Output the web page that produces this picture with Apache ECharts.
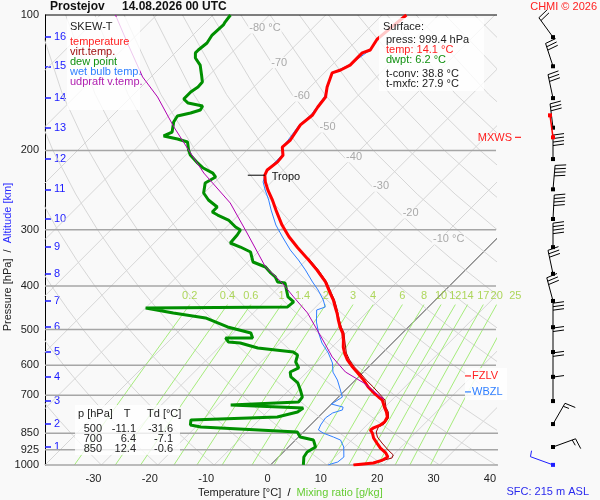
<!DOCTYPE html>
<html>
<head>
<meta charset="utf-8">
<title>SKEW-T Prostejov</title>
<script src="https://cdn.jsdelivr.net/npm/echarts@6.0.0/dist/echarts.min.js"></script>
<style>
  html, body { margin: 0; padding: 0; background: #f9f9f9; }
  #main { width: 600px; height: 500px; }
</style>
</head>
<body>
<div id="main"></div>
<script>
// sounding values: pressure [hPa] and temperature [°C]
var tempP = [999.4, 990, 975, 960, 940, 917, 894, 871, 849, 836, 827, 815, 802, 782, 763, 743, 717, 706, 692, 671,
    647, 624, 606, 584, 564, 547, 528, 509, 494, 476, 460, 446, 430, 415, 392, 369, 347, 329, 311, 293,
    271, 258, 245, 235, 227, 221, 212, 205, 196.5, 189.6, 175.5, 166.8, 160.1, 152.1, 144.5, 134.5, 132.5, 129.2, 121.4, 119.6,
    113.1, 100];
var tempT = [14.7, 17.9, 19.0, 19.4, 18.3, 16.5, 15.0, 13.5, 12.4, 11.5, 11.7, 12.4, 12.6, 12.2, 11.2, 9.9, 8.3, 7.1, 5.6, 3.5,
    1.4, -0.9, -2.8, -5.0, -6.7, -8.0, -9.2, -10.6, -12.1, -13.7, -15.1, -16.5, -18.1, -19.9, -22.7, -26.3, -30.2, -33.7, -37.2, -40.5,
    -44.3, -46.6, -49.2, -51.1, -52.4, -52.9, -52.5, -52.7, -54.3, -54.1, -55.0, -54.6, -55.1, -55.5, -57.0, -58.6, -57.6, -56.8, -56.8, -55.9,
    -56.6, -55.7];

var virtP = [999.4, 990, 964.8, 950, 926.1, 893.9, 866.6, 844.6, 823.3, 810.9, 786, 762.5, 743.5, 717.4, 698.9, 671,
    647.4, 624.5, 605.6, 584.3, 563.8, 546.8, 527.6, 508.6, 493.6, 476.2, 445.6, 429.9, 414.8, 392, 368.6, 346.7];
var virtT = [14.7, 17.9, 20.3, 20.0, 18.2, 15.9, 14.0, 12.9, 12.4, 12.9, 12.6, 11.5, 10.2, 8.8, 7.1, 4.4,
    1.9, -0.4, -2.5, -4.6, -6.4, -7.6, -9.0, -10.4, -11.9, -13.5, -16.3, -17.9, -19.7, -22.5, -26.1, -30.0];

var dewP = [100, 103.7, 105.2, 110.8, 115.4, 119.6, 121.4, 124.6, 129.2, 135.9, 140.9, 144.5, 148.3, 153.7, 156.9, 159.3, 162.6, 165.1, 167.7, 172.9,
    182.0, 185.7, 188.6, 191.5, 199.5, 204.7, 213.2, 218.8, 224.5, 229.1, 236.2, 248.6, 257.7, 267.1, 274.0, 278.3, 285.5, 295.9, 300.5, 308.2,
    321.1, 327.8, 336.3, 353.9, 363.1, 374.4, 382.1, 392.0, 394.0, 423.2, 434.2, 445.4, 447.7, 459.3, 471.2, 493.4, 508.8, 522.0, 522.0, 532.8,
    535.7, 549.5, 560.9, 569.6, 590.3, 608.7, 621.3, 637.3, 657.2, 681.3, 706.3, 724.4, 735.6, 747.0, 762.5, 782.3, 794.3, 814.9, 823.3, 844.6,
    866.6, 880.2, 912.0, 935.7, 960, 989.8, 999.4];
var dewT = [-86.9, -86.6, -86.4, -86.6, -86.1, -86.4, -86.4, -85.5, -83.4, -81.4, -80.0, -79.9, -80.3, -80.3, -78.8, -75.7, -75.4, -76.6, -78.4, -78.0,
    -76.5, -77.3, -74.3, -72.0, -70.4, -69.2, -66.5, -64.6, -62.0, -60.8, -61.6, -60.1, -58.0, -55.2, -55.2, -53.7, -50.9, -48.4, -47.0, -46.7,
    -46.5, -44.0, -41.3, -39.1, -36.0, -34.0, -32.5, -31.2, -29.7, -26.7, -24.8, -25.0, -50.0, -44.2, -37.6, -32.1, -26.9, -25.7, -30.5, -29.3,
    -27.0, -23.0, -16.0, -14.7, -13.8, -12.2, -13.0, -12.0, -9.7, -8.0, -6.4, -6.2, -17.7, -4.3, -4.6, -7.3, -22.1, -21.3, -19.1, -1.1,
    0.3, 3.2, 4.8, 4.2, 4.5, 5.5, 5.8];

var wetP = [113.1, 119.6, 129.2, 134.5, 152.1, 166.8, 175.5, 189.6, 196.5, 204.7, 212.1, 223.3, 235, 244.9, 257.8, 271.3, 292.9, 311.4, 332.9, 350.3,
    368.6, 392, 408.4, 429.9, 445.6, 452.4, 481.2, 508.6, 535.7, 563.8, 593.4, 621.6, 647.4, 681.3, 706.4, 732.1, 743.5, 754.4, 766.2, 786.0,
    814.9, 836, 849.4, 866.6, 880.2, 912, 960, 984.8, 999.4];
var wetT = [-56.6, -55.9, -57.0, -58.6, -55.7, -54.9, -55.2, -54.5, -54.3, -52.9, -52.9, -52.8, -51.5, -49.7, -47.3, -45.1, -41.6, -38.3, -34.6, -31.4,
    -28.4, -25.0, -22.6, -19.9, -18.3, -19.3, -17.2, -14.9, -12.5, -9.6, -7.1, -5.4, -3.2, -0.9, 0.7, 0.0, 2.6, 3.0, 1.8, 1.4,
    1.8, 2.3, 3.7, 6.2, 8.0, 9.8, 11.6, 11.4, 10.2];

var parcelP = [713.4, 706.3, 657.2, 621.3, 575.4, 527.3, 459.3, 423.2, 394, 363.1, 305.1, 261.7, 224.5, 199.5, 177.3, 152.1, 137.3, 116.6, 100];
var parcelT = [8.4, 7.5, 2.0, -3.2, -8.2, -12.9, -20.4, -25.7, -30.2, -36.0, -45.3, -53.6, -63.6, -70.4, -77.1, -85.3, -91.5, -99.7, -107.3];

// axes and background lines
var isobars = [100, 200, 300, 400, 500, 600, 700, 850, 925, 1000];
var tempTicks = [-30, -20, -10, 0, 10, 20, 30, 40];
var kmP = [912, 811, 721, 637, 561, 494, 432, 376, 328, 284, 244, 209, 178, 153, 130, 112]; // 1..16 km
var mixRatios = [0.2, 0.4, 0.6, 1, 1.4, 2, 3, 4, 6, 8, 10, 12, 14, 17, 20, 25];
var isoLabT = [-80, -70, -60, -50, -40, -30, -20, -10];
var isoLabP = [106.9, 127.5, 151.4, 177.3, 206.6, 240.1, 275.4, 314.6];

// wind profile (surface + every km)
var windP = [999.4].concat(kmP);
var windDir = [290, 70, 30, 0, 0, 0, 0, 345, 348, 0, 3, 5, 0, 353, 348, 342, 324];
var windSpd = [5, 15, 15, 10, 20, 20, 30, 30, 30, 40, 40, 40, 40, 30, 30, 30, 20];

// levels and table
var tropoP = 227, tropoT = -52.4;
var fzlvP = 634, wbzlP = 688, mxwsP = 187;
var tabP = ['500', '700', '850'];
var tabT = ['-11.1', '6.4', '12.4'];
var tabTd = ['-31.6', '-7.1', '-0.6'];

var SKEW = 79.8;          // 45 degree isotherms
var X_MIN = -40, X_MAX = 40;
var FF = '"Liberation Sans", Arial, sans-serif';
var font = '11px ' + FF;

function sk(t, p) { return [t + SKEW * Math.log10(1000 / p), Math.log10(p)]; }
function curve(ps, ts) { return ps.map(function (p, i) { return sk(ts[i], p); }); }
function tMix(w, p) {
    var e = w * p / (622 + w), l = Math.log(e / 6.112);
    return 243.5 * l / (17.67 - l);
}
function bg(data, color, width, z, clip) {
    return { type: 'line', data: data, symbol: 'none', silent: true, clip: clip !== false, z: z,
        lineStyle: { color: color, width: width } };
}

var series = [];
var t, th, k;
// isotherms
for (t = -130; t <= 40; t += 10) {
    series.push(bg([sk(t, 1000), sk(t, 100)], t === 0 ? '#444' : '#d6d6d6', 1, 1));
}
// dry adiabats
for (th = -40; th <= 180; th += 10) {
    var ad = [];
    for (var p = 1000; p >= 100; p -= 50) {
        ad.push(sk((th + 273.15) * Math.pow(p / 1000, 0.2857) - 273.15, p));
    }
    series.push(bg(ad, '#d6d6d6', 1, 1));
}
// mixing ratio lines
var mixTops = [];
mixRatios.forEach(function (w) {
    var ml = [1000, 920, 840, 760, 680, 600, 520, 440].map(function (p) { return sk(tMix(w, p), p); });
    mixTops.push({ value: ml[ml.length - 1], w: w });
    series.push(bg(ml, '#a6ec7c', 1, 2, false));
});
series.push({
    type: 'scatter', data: mixTops, symbolSize: 0, silent: true, clip: false, z: 3,
    label: { show: true, position: 'top', distance: 3, color: '#9acd32', fontSize: 11, fontFamily: FF,
        formatter: function (d) { return String(d.data.w); } }
});
// isobars
isobars.forEach(function (p) {
    var xe = p === 100 ? X_MAX + 17.1 : (p >= 850 ? X_MAX + 8.9 : X_MAX);
    series.push(bg([[X_MIN, Math.log10(p)], [xe, Math.log10(p)]], p === 100 ? '#000' : '#a6a6a6', p === 100 ? 1 : 1.5, 3, false));
});
// isotherm labels, centred on their line
series.push({
    type: 'custom', silent: true, z: 3,
    data: isoLabT.map(function (tt, i) { return sk(tt, isoLabP[i]); }),
    renderItem: function (params, api) {
        var i = params.dataIndex, c = api.coord([api.value(0), api.value(1)]);
        var s = String(isoLabT[i]);
        if (i === 0 || i === isoLabT.length - 1) { s += ' °C'; }
        return { type: 'text', x: c[0] - 8, y: c[1],
            style: { text: s, fill: '#a9a9a9', font: font, textAlign: 'left', textVerticalAlign: 'middle',
                backgroundColor: '#f9f9f9', padding: [0, 1] } };
    }
});

// sounding curves
function snd(name, ps, ts, color, width, z) {
    return { name: name, type: 'line', data: curve(ps, ts), symbol: 'none', z: z, silent: true,
        lineStyle: { color: color, width: width } };
}
series.push(snd('wet bulb temp.', wetP, wetT, '#2f7fff', 1, 5));
series.push(snd('virt.temp.', virtP, virtT, '#9a0000', 1, 5));
series.push(snd('dew point', dewP, dewT, '#008f00', 3, 6));
series.push(snd('temperature', tempP, tempT, '#ff0000', 3, 7));
series.push(snd('udpraft v.temp.', parcelP, parcelT, '#b000b0', 1, 8));

// tropopause, freezing and wet bulb zero levels
series.push({
    type: 'custom', silent: true, z: 9, data: [sk(tropoT, tropoP)],
    renderItem: function (params, api) {
        var c = api.coord([api.value(0), api.value(1)]);
        return { type: 'group', children: [
            { type: 'line', shape: { x1: c[0] - 17, y1: c[1], x2: c[0], y2: c[1] }, style: { stroke: '#000', lineWidth: 1 } },
            { type: 'text', x: c[0] + 7, y: c[1] + 2, style: { text: 'Tropo', fill: '#111', font: font, textAlign: 'left', textVerticalAlign: 'middle' } }
        ] };
    }
});
var marks = [{ n: 'FZLV', p: fzlvP, c: '#ff2020' }, { n: 'WBZL', p: wbzlP, c: '#2f7fff' }];
series.push({
    type: 'custom', silent: true, z: 9, data: marks.map(function (m) { return [X_MAX, Math.log10(m.p)]; }),
    renderItem: function (params, api) {
        var m = marks[params.dataIndex], c = api.coord([api.value(0), api.value(1)]);
        return { type: 'group', children: [
            { type: 'rect', shape: { x: c[0] - 31, y: c[1] - 8, width: 42, height: 16 }, style: { fill: 'rgba(255,255,255,0.85)' } },
            { type: 'line', shape: { x1: c[0] - 31, y1: c[1], x2: c[0] - 25, y2: c[1] }, style: { stroke: m.c, lineWidth: 1.2 } },
            { type: 'text', x: c[0] - 24, y: c[1], style: { text: m.n, fill: m.c, font: font, textAlign: 'left', textVerticalAlign: 'middle' } }
        ] };
    }
});
series.push({
    type: 'custom', silent: true, z: 9, data: [[X_MAX, Math.log10(mxwsP)]],
    renderItem: function (params, api) {
        var c = api.coord([api.value(0), api.value(1)]);
        return { type: 'group', children: [
            { type: 'text', x: c[0] + 16, y: c[1] + 1, style: { text: 'MXWS', fill: '#ff2020', font: font, textAlign: 'right', textVerticalAlign: 'middle' } },
            { type: 'line', shape: { x1: c[0] + 19, y1: c[1], x2: c[0] + 25, y2: c[1] }, style: { stroke: '#ff2020', lineWidth: 1.2 } }
        ] };
    }
});

// wind profile
function seg(x1, y1, x2, y2, col) {
    return { type: 'line', shape: { x1: x1, y1: y1, x2: x2, y2: y2 }, style: { stroke: col, lineWidth: 1 } };
}
series.push({
    type: 'custom', silent: true, xAxisIndex: 1, yAxisIndex: 2, z: 9,
    data: windP.map(function (p, i) { return [0, Math.log10(p), windDir[i], windSpd[i]]; }),
    renderItem: function (params, api) {
        var c = api.coord([api.value(0), api.value(1)]);
        var dir = api.value(2) * Math.PI / 180, spd = api.value(3);
        var col = params.dataIndex === 0 ? '#1f1fff' : '#000';
        var ux = Math.sin(dir), uy = -Math.cos(dir), px = -uy, py = ux;
        var tx = c[0] + ux * 24, ty = c[1] + uy * 24;
        var kids = [seg(c[0], c[1], tx, ty, col)];
        var n = Math.floor(spd / 10), half = spd % 10 >= 5;
        for (k = 0; k < n; k++) {
            var bx = tx - ux * k * 3.5, by = ty - uy * k * 3.5;
            kids.push(seg(bx, by, bx + px * 11 + ux * 1.5, by + py * 11 + uy * 1.5, col));
        }
        if (half) {
            var hx = tx - ux * n * 3.5, hy = ty - uy * n * 3.5;
            kids.push(seg(hx, hy, hx + px * 6 + ux, hy + py * 6 + uy, col));
        }
        kids.push({ type: 'rect', shape: { x: c[0] - 2, y: c[1] - 2, width: 4, height: 4 }, style: { fill: col } });
        return { type: 'group', children: kids };
    }
});
series.push({
    type: 'custom', silent: true, xAxisIndex: 1, yAxisIndex: 2, z: 10, data: [[0, Math.log10(mxwsP)]],
    renderItem: function (params, api) {
        var c = api.coord([api.value(0), api.value(1)]);
        return { type: 'group', children: [
            { type: 'line', shape: { x1: c[0], y1: c[1], x2: c[0] - 3, y2: c[1] - 22 }, style: { stroke: '#ff0000', lineWidth: 1.5 } },
            { type: 'rect', shape: { x: c[0] - 2, y: c[1] - 2, width: 4, height: 4 }, style: { fill: '#ff0000' } },
            { type: 'rect', shape: { x: c[0] - 5, y: c[1] - 24, width: 4, height: 4 }, style: { fill: '#ff0000' } }
        ] };
    }
});

// text boxes
function txt(x, y, s, color, f, align) {
    return { type: 'text', x: x, y: y, z: 101, silent: true,
        style: { text: s, fill: color, font: f || font, textAlign: align || 'left', textVerticalAlign: 'middle' } };
}
function box(x, y, w, h) {
    return { type: 'rect', z: 100, silent: true, shape: { x: x, y: y, width: w, height: h }, style: { fill: 'rgba(255,255,255,0.78)' } };
}
var titleFont = 'bold 12px ' + FF;
var graphic = [
    txt(50, 7, 'Prostejov', '#111', titleFont),
    txt(122, 7, '14.08.2026 00 UTC', '#111', titleFont),
    txt(597, 7, 'CHMI © 2026', '#ff2020', font, 'right'),
    box(67, 17, 73, 93),
    txt(70, 27, 'SKEW-T', '#222'),
    txt(70, 42, 'temperature', '#ff2020'),
    txt(70, 52, 'virt.temp.', '#a01010'),
    txt(70, 62, 'dew point', '#109010'),
    txt(70, 72, 'wet bulb temp.', '#3080ff'),
    txt(70, 82, 'udpraft v.temp.', '#b020b0'),
    box(379, 18, 105, 73),
    txt(383, 27, 'Surface:', '#222'),
    txt(386, 40, 'press: 999.4 hPa', '#222'),
    txt(386, 50, 'temp: 14.1 °C', '#ff2020'),
    txt(386, 60, 'dwpt: 6.2 °C', '#109010'),
    txt(386, 74, 't-conv: 38.8 °C', '#222'),
    txt(386, 84, 't-mxfc: 27.9 °C', '#222'),
    box(75, 405, 105, 50),
    txt(78, 414, 'p [hPa]', '#222'),
    txt(127, 414, 'T', '#222', font, 'center'),
    txt(147, 414, 'Td [°C]', '#222'),
    txt(589, 492, 'SFC: 215 m ASL', '#2a2aee', font, 'right'),
    { type: 'text', x: 198, y: 493, z: 101, silent: true,
        style: { text: '{k|Temperature [°C]}  /  {g|Mixing ratio [g/kg]}', textVerticalAlign: 'middle', font: font,
            rich: { k: { fill: '#222', font: font }, g: { fill: '#66cc33', font: font } } } },
    { type: 'text', x: 8, y: 257, rotation: Math.PI / 2, z: 101, silent: true,
        style: { text: '{k|Pressure [hPa]}  /  {b|Altitude [km]}', textAlign: 'center', textVerticalAlign: 'middle', font: font,
            rich: { k: { fill: '#222', font: font }, b: { fill: '#2a2aff', font: font } } } }
];
tabP.forEach(function (p, i) {
    var y = 429 + i * 10;
    graphic.push(txt(102, y, p, '#222', font, 'right'));
    graphic.push(txt(136, y, tabT[i], '#222', font, 'right'));
    graphic.push(txt(173, y, tabTd[i], '#222', font, 'right'));
});

var kmLog = kmP.map(function (p) { return Math.log10(p); });
var myChart = echarts.init(document.getElementById('main'));
var option = {
    backgroundColor: '#f9f9f9',
    animation: false,
    grid: [
        { left: 45, right: 104, top: 15, bottom: 35 },
        { left: 506, width: 100, top: 15, bottom: 35 }
    ],
    xAxis: [
        { type: 'value', gridIndex: 0, min: X_MIN, max: X_MAX,
            axisLine: { show: false }, axisTick: { show: false }, splitLine: { show: false },
            axisLabel: { customValues: tempTicks, align: 'right', color: '#222', fontSize: 11, fontFamily: FF, margin: 8 } },
        { type: 'value', gridIndex: 1, min: -1, max: 1, show: false }
    ],
    yAxis: [
        { type: 'value', gridIndex: 0, inverse: true, min: 2, max: 3,
            axisLine: { show: true, onZero: false, lineStyle: { color: '#000', width: 1 } }, axisTick: { show: false }, splitLine: { show: false },
            axisLabel: { customValues: isobars.map(function (p) { return Math.log10(p); }), color: '#222', fontSize: 11, fontFamily: FF, margin: 6,
                formatter: function (v) { return String(Math.round(Math.pow(10, v))); } } },
        { type: 'value', gridIndex: 0, inverse: true, min: 2, max: 3, position: 'left',
            axisLine: { show: false, onZero: false }, splitLine: { show: false },
            axisTick: { show: true, inside: true, length: 6, customValues: kmLog, lineStyle: { color: '#1a1aff', width: 1.5 } },
            axisLabel: { inside: true, customValues: kmLog, color: '#1a1aff', fontSize: 11, fontFamily: FF, margin: 9,
                formatter: function (v) {
                    for (var i = 0; i < kmLog.length; i++) { if (Math.abs(kmLog[i] - v) < 1e-9) { return String(i + 1); } }
                    return '';
                } } },
        { type: 'value', gridIndex: 1, inverse: true, min: 2, max: 3, show: false }
    ],
    graphic: graphic,
    series: series
};
myChart.setOption(option);
</script>
</body>
</html>
